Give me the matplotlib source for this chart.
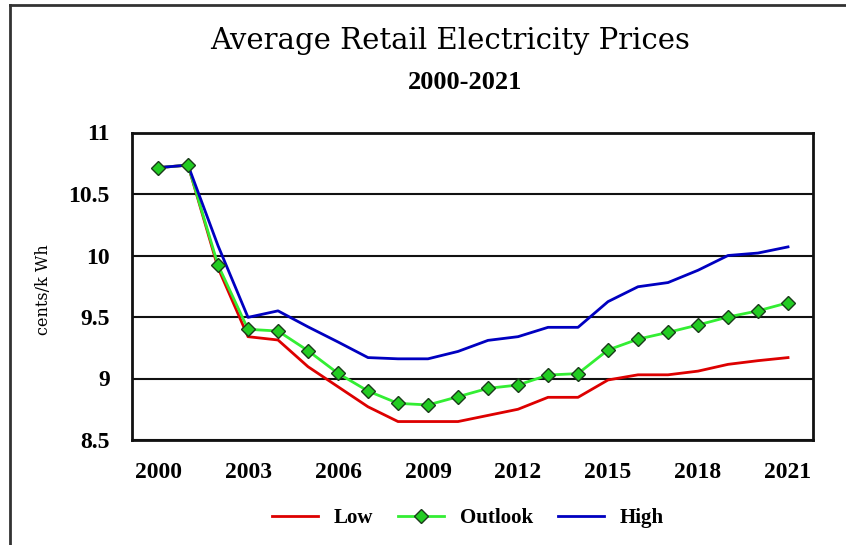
import matplotlib
matplotlib.use("Agg")
import matplotlib.pyplot as plt
from matplotlib.lines import Line2D
from matplotlib import font_manager as fm

years = list(range(2000, 2022))
low = [10.714, 10.735, 9.90, 9.34, 9.313, 9.096, 8.933, 8.77, 8.65, 8.65, 8.65,
       8.70, 8.75, 8.847, 8.847, 8.988, 9.03, 9.03, 9.06, 9.115, 9.145, 9.17]
outlook = [10.714, 10.735, 9.923, 9.40, 9.386, 9.226, 9.042, 8.898, 8.798, 8.785, 8.852,
           8.92, 8.947, 9.028, 9.04, 9.232, 9.32, 9.375, 9.435, 9.50, 9.55, 9.616]
high = [10.714, 10.735, 10.08, 9.497, 9.55, 9.42, 9.297, 9.17, 9.16, 9.16, 9.22,
        9.31, 9.34, 9.416, 9.416, 9.625, 9.746, 9.78, 9.88, 10.0, 10.02, 10.07]
xtick_years = [2000, 2003, 2006, 2009, 2012, 2015, 2018, 2021]
yticks = [8.5, 9, 9.5, 10, 10.5, 11]
ytick_labels = ["8.5", "9", "9.5", "10", "10.5", "11"]

names = {f.name for f in fm.fontManager.ttflist}
if "Liberation Sans Narrow" in names:
    tick_font = dict(family="Liberation Sans Narrow", weight="bold")
else:
    tick_font = dict(family="Liberation Serif", weight="bold")

fig = plt.figure(figsize=(8.46, 5.45), dpi=100)
ax = fig.add_axes([132/846, 1-440/545, (813-132)/846, (440-132.5)/545])

ax.plot(years, low, color="#dd0000", lw=2.0, zorder=2, solid_joinstyle="round")
ax.plot(years, outlook, color="#33ee33", lw=2.0, zorder=3, solid_joinstyle="round")
ax.plot(years, high, color="#0000c0", lw=2.0, zorder=4, solid_joinstyle="round")
ax.plot(years, outlook, ls="none", marker="D", ms=6.8, mfc="#22cc22", mec="#1a3a1a",
        mew=1.0, zorder=5)

ax.set_xlim(1999.133, 2021.833)
ax.set_ylim(8.5, 11)
ax.set_xticks(xtick_years)
ax.set_xticklabels([str(y) for y in xtick_years], fontsize=17, **tick_font)
ax.set_yticks(yticks)
ax.set_yticklabels(ytick_labels, fontsize=17, **tick_font)
ax.tick_params(axis="both", length=0)
ax.tick_params(axis="y", pad=16)
ax.tick_params(axis="x", pad=16)
ax.yaxis.grid(True, color="#111111", lw=1.5)
ax.set_axisbelow(True)
for s in ax.spines.values():
    s.set_linewidth(2.0)
    s.set_color("#111111")

ax.set_ylabel("cents/k Wh", family="DejaVu Serif", fontsize=11.5)
ax.yaxis.set_label_coords(-0.117, 0.49)

fig.text(0.532, 1-41/545, "Average Retail Electricity Prices", family="DejaVu Serif",
         fontsize=21, ha="center", va="center")
fig.text(0.550, 1-82.5/545, "2000-2021", family="Liberation Serif", weight="bold",
         fontsize=19, ha="center", va="center")

handles = [
    Line2D([], [], color="#dd0000", lw=2.0),
    Line2D([], [], color="#33ee33", lw=2.0, marker="D", ms=6.8, mfc="#22cc22",
           mec="#1a3a1a", mew=1.0),
    Line2D([], [], color="#0000c0", lw=2.0),
]
fig.legend(handles, ["Low", "Outlook", "High"], loc="center", ncol=3,
           bbox_to_anchor=(468/846, 1-518/545), frameon=False,
           prop=dict(family="Liberation Serif", weight="bold", size=15),
           handlelength=2.2, columnspacing=1.2, handletextpad=0.75)

fig.add_artist(Line2D([10/846, 1], [1-5/545, 1-5/545], transform=fig.transFigure,
                      color="#333333", lw=2))
fig.add_artist(Line2D([10/846, 10/846], [0, 1-5/545], transform=fig.transFigure,
                      color="#333333", lw=2))

fig.savefig("out.png", dpi=100)
